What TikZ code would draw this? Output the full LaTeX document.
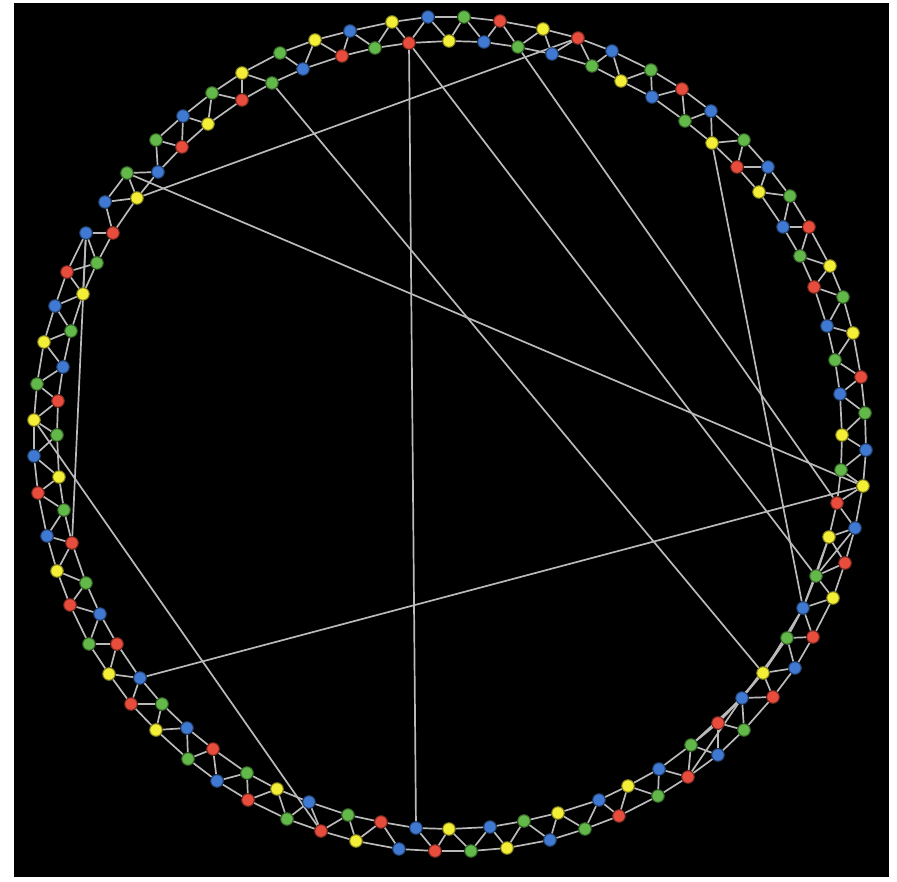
\documentclass[tikz,border=0pt]{standalone}
\usepackage{tikz}
\usetikzlibrary{calc}
\pgfdeclarelayer{edges}
\pgfsetlayers{edges,main}
\definecolor{cred}{RGB}{231,76,60}
\definecolor{cgreen}{RGB}{98,184,72}
\definecolor{cblue}{RGB}{64,121,209}
\definecolor{cyellow}{RGB}{243,238,54}
\definecolor{linkgray}{RGB}{186,186,186}

\begin{document}
\begin{tikzpicture}[x=1pt, y=-1pt,
  vtx/.style={circle, inner sep=0pt, minimum size=12.5pt, line width=1pt},
  link/.style={draw=linkgray, line width=1.7pt}]
\useasboundingbox (0,0) rectangle (897,882);
\foreach \n/\x/\y/\c in {
  1/449/41/cyellow, 2/464/17/cgreen, 3/484/42/cblue, 4/500/21/cred,
  5/518/47/cgreen, 6/543/29/cyellow, 7/552/54/cblue, 8/578/38/cred,
  9/592/66/cgreen, 10/612/51/cblue, 11/621/81/cyellow, 12/651/70/cgreen,
  13/652/97/cblue, 14/682/89/cred, 15/685/121/cgreen, 16/711/111/cblue,
  17/712/143/cyellow, 18/744/140/cgreen, 19/737/167/cred, 20/768/167/cblue,
  21/759/192/cyellow, 22/790/196/cgreen, 23/783/227/cblue, 24/809/227/cred,
  25/800/256/cgreen, 26/830/266/cyellow, 27/814/287/cred, 28/843/297/cgreen,
  29/827/326/cblue, 30/853/333/cyellow, 31/835/360/cgreen, 32/861/377/cred,
  33/840/394/cblue, 34/865/413/cgreen, 35/842/435/cyellow, 36/866/450/cblue,
  37/841/470/cgreen, 38/863/486/cyellow, 39/837/503/cred, 40/855/528/cblue,
  41/829/537/cyellow, 42/845/563/cred, 43/816/576/cgreen, 44/833/598/cyellow,
  45/803/608/cblue, 46/813/637/cred, 47/787/638/cgreen, 48/795/668/cblue,
  49/763/673/cyellow, 50/773/697/cred, 51/742/698/cblue, 52/744/730/cgreen,
  53/718/723/cred, 54/718/755/cblue, 55/691/745/cgreen, 56/688/777/cred,
  57/659/769/cblue, 58/658/796/cgreen, 59/628/786/cyellow, 60/619/816/cred,
  61/599/800/cblue, 62/585/829/cgreen, 63/558/813/cyellow, 64/550/840/cblue,
  65/524/821/cgreen, 66/507/848/cyellow, 67/490/827/cblue, 68/471/851/cgreen,
  69/449/829/cyellow, 70/435/851/cred, 71/416/828/cblue, 72/399/849/cblue,
  73/381/822/cred, 74/356/841/cyellow, 75/348/815/cgreen, 76/321/831/cred,
  77/309/802/cblue, 78/287/819/cgreen, 79/277/789/cyellow, 80/248/800/cred,
  81/247/773/cgreen, 82/217/781/cblue, 83/213/749/cred, 84/188/759/cgreen,
  85/187/728/cblue, 86/156/730/cyellow, 87/162/704/cgreen, 88/131/704/cred,
  89/140/678/cblue, 90/109/674/cyellow, 91/117/644/cred, 92/89/644/cgreen,
  93/100/614/cblue, 94/70/605/cred, 95/86/583/cgreen, 96/57/571/cyellow,
  97/72/543/cred, 98/47/536/cblue, 99/64/510/cgreen, 100/38/493/cred,
  101/59/477/cyellow, 102/34/456/cblue, 103/57/435/cgreen, 104/34/420/cyellow,
  105/58/401/cred, 106/37/384/cgreen, 107/63/367/cblue, 108/44/342/cyellow,
  109/71/331/cgreen, 110/55/306/cblue, 111/83/294/cyellow, 112/67/272/cred,
  113/97/263/cgreen, 114/86/233/cblue, 115/113/233/cred, 116/105/202/cblue,
  117/137/198/cyellow, 118/127/173/cgreen, 119/158/172/cblue, 120/156/140/cgreen,
  121/182/147/cred, 122/183/116/cblue, 123/208/124/cyellow, 124/212/93/cgreen,
  125/242/100/cred, 126/242/73/cyellow, 127/272/83/cgreen, 128/280/53/cgreen,
  129/303/69/cblue, 130/315/40/cyellow, 131/342/56/cred, 132/350/31/cblue,
  133/375/48/cgreen, 134/392/22/cyellow, 135/409/43/cred, 136/428/17/cblue}
  \node[vtx, fill=\c, draw=\c!55!black] (v\n) at (\x,\y) {};
\begin{pgfonlayer}{edges}
\fill[white] (0,0) rectangle (897,882);
\fill[black] (14,3) rectangle (889,877);
\foreach \i in {1,...,136}{
  \pgfmathtruncatemacro\j{mod(\i,136)+1}
  \pgfmathtruncatemacro\k{mod(\i+1,136)+1}
  \pgfmathtruncatemacro\sj{(\i==71)||(\i==127)}
  \pgfmathtruncatemacro\sk{(\i==114)||(\i==118)}
  \ifnum\sj=0 \draw[link] (v\i) -- (v\j); \fi
  \ifnum\sk=0 \draw[link] (v\i) -- (v\k); \fi
}
\foreach \a/\b in {135/71, 135/43, 5/39, 17/45, 118/38, 89/38, 127/49,
  117/8, 104/76, 114/97, 114/111, 40/43, 41/45, 45/49, 47/51, 49/53,
  51/55, 51/56}
  \draw[link] (v\a) -- (v\b);
\end{pgfonlayer}
\end{tikzpicture}
\end{document}
